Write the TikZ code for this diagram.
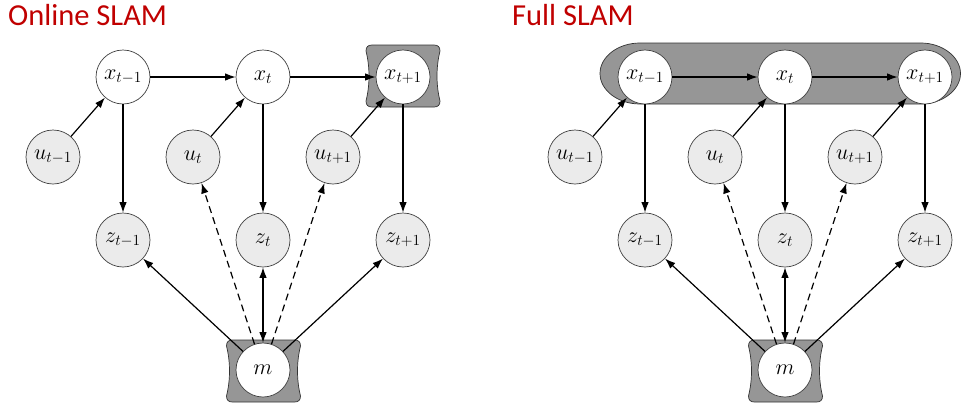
\documentclass[tikz,border=0pt]{standalone}
\usepackage{fontspec}
\newfontfamily\titlefont{Carlito}
\usetikzlibrary{arrows.meta,backgrounds}
\definecolor{titlered}{RGB}{192,0,0}
\definecolor{obsgray}{RGB}{235,235,235}
\definecolor{shadegray}{RGB}{150,150,150}
\newcommand\nlab[1]{\scalebox{1.07}{$#1$}}
\tikzset{
  var/.style={circle, draw=black!75, line width=0.7pt, minimum size=54pt, inner sep=0pt, font=\fontsize{20.74}{25}\selectfont},
  hid/.style={var, fill=white},
  obs/.style={var, fill=obsgray},
  tip/.tip={Latex[length=10.5pt,width=7.5pt]},
  arr/.style={-tip, line width=1.2pt},
  dasharr/.style={arr, dash pattern=on 7pt off 4.5pt},
  biarr/.style={tip-tip, line width=1.2pt},
  shadeshape/.style={fill=shadegray, draw=black!80, line width=0.7pt},
  title/.style={anchor=base west, inner sep=0pt, text=titlered, font=\titlefont\fontsize{30.5}{36}\selectfont},
  pics/cbox/.style={code={
    \path[shadeshape] (-31,-31) -- (31,-31) .. controls (35,-31) and (37,-29) .. (37,-25)
      .. controls (33,-9) and (33,9) .. (37,25) .. controls (37,29) and (35,31) .. (31,31)
      -- (-31,31) .. controls (-35,31) and (-37,29) .. (-37,25)
      .. controls (-33,9) and (-33,-9) .. (-37,-25) .. controls (-37,-29) and (-35,-31) .. (-31,-31) -- cycle;
  }}
}
\begin{document}
\begin{tikzpicture}[x=1pt,y=-1pt]
\useasboundingbox (0,0) rectangle (962,405);

% titles
\node[title] (t1) at (8,25) {Online SLAM};
\node[title] (t2) at (512,25) {Full SLAM};

% ---------- Online SLAM ----------
\node[hid] (ax1) at (123,77) {\nlab{x_{t-1}}};
\node[hid] (ax2) at (263,77) {\nlab{x_{t}}};
\node[hid] (ax3) at (403,77) {\nlab{x_{t+1}}};
\node[obs] (au1) at (53,157) {\nlab{u_{t-1}}};
\node[obs] (au2) at (193,157) {\nlab{u_{t}}};
\node[obs] (au3) at (333,157) {\nlab{u_{t+1}}};
\node[obs] (az1) at (123,240) {\nlab{z_{t-1}}};
\node[obs] (az2) at (263,240) {\nlab{z_{t}}};
\node[obs] (az3) at (403,240) {\nlab{z_{t+1}}};
\node[hid] (am) at (263,370) {\nlab{m}};

\begin{scope}[on background layer]
  \pic at (403,76) {cbox};
  \pic at (263.5,371) {cbox};
\end{scope}

\draw[arr] (ax1) -- (ax2);
\draw[arr] (ax2) -- (ax3);
\draw[arr] (au1) -- (ax1);
\draw[arr] (au2) -- (ax2);
\draw[arr] (au3) -- (ax3);
\draw[arr] (ax1) -- (az1);
\draw[arr] (ax2) -- (az2);
\draw[arr] (ax3) -- (az3);
\draw[arr] (am) -- (az1);
\draw[biarr] (am) -- (az2);
\draw[arr] (am) -- (az3);
\draw[dasharr] (am) -- (au2);
\draw[dasharr] (am) -- (au3);

% ---------- Full SLAM ----------
\node[hid] (bx1) at (645,77) {\nlab{x_{t-1}}};
\node[hid] (bx2) at (785,77) {\nlab{x_{t}}};
\node[hid] (bx3) at (925,77) {\nlab{x_{t+1}}};
\node[obs] (bu1) at (575,157) {\nlab{u_{t-1}}};
\node[obs] (bu2) at (715,157) {\nlab{u_{t}}};
\node[obs] (bu3) at (855,157) {\nlab{u_{t+1}}};
\node[obs] (bz1) at (645,240) {\nlab{z_{t-1}}};
\node[obs] (bz2) at (785,240) {\nlab{z_{t}}};
\node[obs] (bz3) at (925,240) {\nlab{z_{t+1}}};
\node[hid] (bm) at (785,370) {\nlab{m}};

\begin{scope}[on background layer]
  \path[shadeshape] (640,43) -- (921,43)
     .. controls (942,43) and (960.5,56.7) .. (960.5,73.5)
     .. controls (960.5,90.3) and (942,104) .. (921,104)
     -- (640,104)
     .. controls (617.9,104) and (600,90.3) .. (600,73.5)
     .. controls (600,56.7) and (617.9,43) .. (640,43) -- cycle;
  \pic at (785.5,371) {cbox};
\end{scope}

\draw[arr] (bx1) -- (bx2);
\draw[arr] (bx2) -- (bx3);
\draw[arr] (bu1) -- (bx1);
\draw[arr] (bu2) -- (bx2);
\draw[arr] (bu3) -- (bx3);
\draw[arr] (bx1) -- (bz1);
\draw[arr] (bx2) -- (bz2);
\draw[arr] (bx3) -- (bz3);
\draw[arr] (bm) -- (bz1);
\draw[biarr] (bm) -- (bz2);
\draw[arr] (bm) -- (bz3);
\draw[dasharr] (bm) -- (bu2);
\draw[dasharr] (bm) -- (bu3);
\end{tikzpicture}
\end{document}
